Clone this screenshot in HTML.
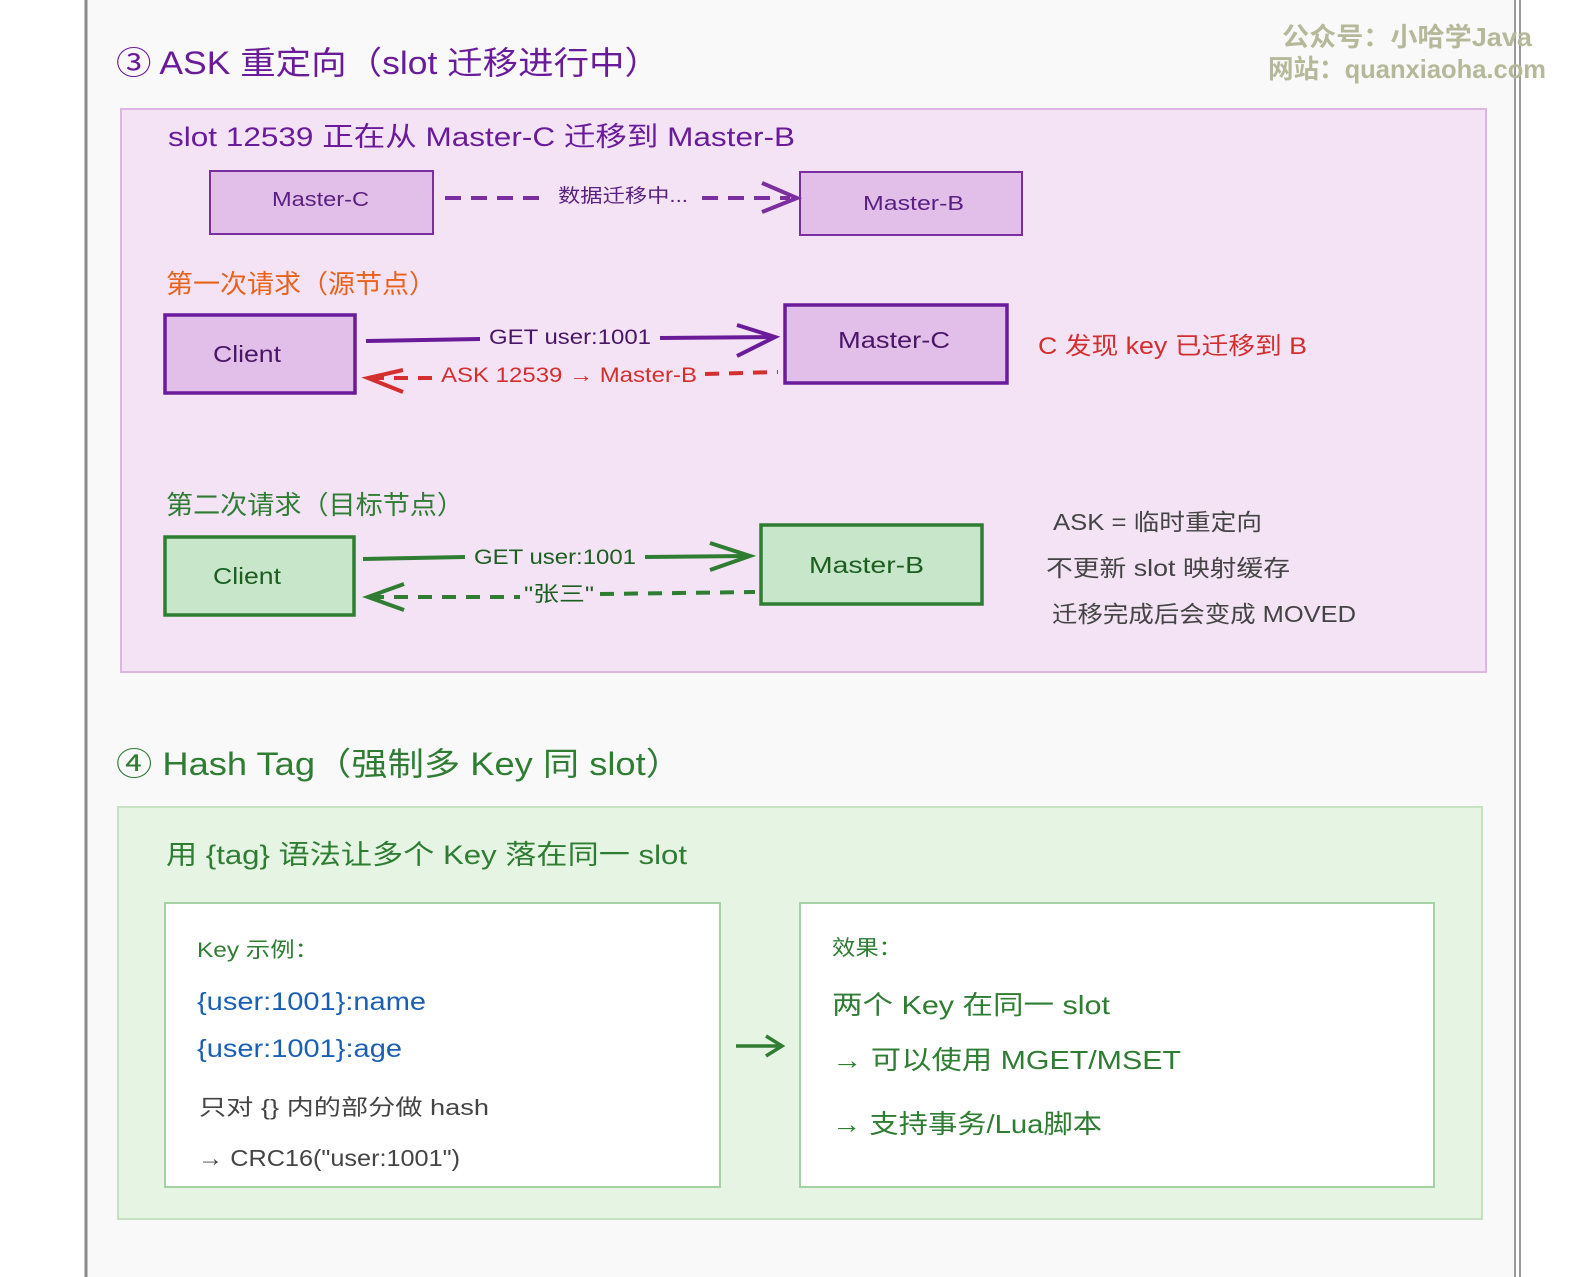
<!DOCTYPE html>
<html><head><meta charset="utf-8"><style>
html,body{margin:0;padding:0;background:#fff}
svg{display:block}
text{font-family:"Liberation Sans","Noto Sans CJK SC",sans-serif}
</style></head><body>
<svg width="1580" height="1277" viewBox="0 0 1580 1277" xmlns="http://www.w3.org/2000/svg">
<rect x="0" y="0" width="1580" height="1277" fill="#fff"/>
<rect x="86" y="0" width="1430" height="1277" fill="#f9f9f9"/>
<line x1="86" y1="0" x2="86" y2="1277" stroke="#8a8a8a" stroke-width="3"/>
<line x1="1515" y1="0" x2="1515" y2="1277" stroke="#999" stroke-width="2"/>
<line x1="1520" y1="0" x2="1520" y2="1277" stroke="#999" stroke-width="2"/>

<text x="1282" y="46" font-size="26" fill="#b5b99a" font-weight="bold" textLength="250" lengthAdjust="spacingAndGlyphs">公众号：小哈学Java</text>
<text x="1268" y="78" font-size="26" fill="#b5b99a" font-weight="bold" textLength="278" lengthAdjust="spacingAndGlyphs">网站：quanxiaoha.com</text>

<!-- section 3 -->
<text x="116" y="74" font-size="32" fill="#6a1b9a" textLength="544" lengthAdjust="spacingAndGlyphs">③ ASK 重定向（slot 迁移进行中）</text>
<rect x="121" y="109" width="1365" height="563" fill="#f3e3f5" stroke="#dcb6e0" stroke-width="2"/>
<text x="168" y="146" font-size="27" fill="#6a1b9a" textLength="627" lengthAdjust="spacingAndGlyphs">slot 12539 正在从 Master-C 迁移到 Master-B</text>

<rect x="210" y="171" width="223" height="63" fill="#e1bfe8" stroke="#7b2ea0" stroke-width="2"/>
<text x="272" y="206" font-size="20" fill="#5a1f80" textLength="97" lengthAdjust="spacingAndGlyphs">Master-C</text>
<rect x="800" y="172" width="222" height="63" fill="#e1bfe8" stroke="#7b2ea0" stroke-width="2"/>
<text x="863" y="210" font-size="20" fill="#5a1f80" textLength="101" lengthAdjust="spacingAndGlyphs">Master-B</text>
<line x1="445" y1="198" x2="548" y2="198" stroke="#7b2ea0" stroke-width="4" stroke-dasharray="16,10"/>
<text x="558" y="202" font-size="19" fill="#5a1f80" textLength="130" lengthAdjust="spacingAndGlyphs">数据迁移中...</text>
<line x1="702" y1="198" x2="790" y2="198" stroke="#7b2ea0" stroke-width="4" stroke-dasharray="16,10"/>
<path d="M762 183 L797 198 L762 212" fill="none" stroke="#7b2ea0" stroke-width="4"/>

<text x="166" y="293" font-size="26" fill="#e8621c" textLength="270" lengthAdjust="spacingAndGlyphs">第一次请求（源节点）</text>
<rect x="165" y="315" width="190" height="78" fill="#e1bfe8" stroke="#6a1b9a" stroke-width="3.5"/>
<text x="213" y="362" font-size="23" fill="#4a1566" textLength="68" lengthAdjust="spacingAndGlyphs">Client</text>
<rect x="785" y="305" width="222" height="78" fill="#e1bfe8" stroke="#6a1b9a" stroke-width="3.5"/>
<text x="838" y="348" font-size="23" fill="#4a1566" textLength="112" lengthAdjust="spacingAndGlyphs">Master-C</text>
<line x1="366" y1="341" x2="480" y2="339" stroke="#6a1b9a" stroke-width="4"/>
<text x="489" y="344" font-size="21" fill="#4a1566" textLength="162" lengthAdjust="spacingAndGlyphs">GET user:1001</text>
<line x1="660" y1="338" x2="772" y2="337" stroke="#6a1b9a" stroke-width="4"/>
<path d="M737 325 L775 337 L737 356" fill="none" stroke="#6a1b9a" stroke-width="4"/>
<path d="M403 370 L368 378 L403 392" fill="none" stroke="#d32f2f" stroke-width="4"/>
<line x1="370" y1="378" x2="432" y2="378" stroke="#d32f2f" stroke-width="4" stroke-dasharray="14,10"/>
<text x="441" y="382" font-size="21" fill="#d32f2f" textLength="256" lengthAdjust="spacingAndGlyphs">ASK 12539 → Master-B</text>
<line x1="705" y1="374" x2="778" y2="372" stroke="#d32f2f" stroke-width="4" stroke-dasharray="14,10"/>
<text x="1038" y="354" font-size="24" fill="#d32f2f" textLength="269" lengthAdjust="spacingAndGlyphs">C 发现 key 已迁移到 B</text>

<text x="166" y="514" font-size="26" fill="#2e7d32" textLength="298" lengthAdjust="spacingAndGlyphs">第二次请求（目标节点）</text>
<rect x="165" y="537" width="189" height="78" fill="#c8e6c9" stroke="#2e7d32" stroke-width="3.5"/>
<text x="213" y="584" font-size="23" fill="#1b5e20" textLength="68" lengthAdjust="spacingAndGlyphs">Client</text>
<rect x="761" y="525" width="221" height="79" fill="#c8e6c9" stroke="#2e7d32" stroke-width="3.5"/>
<text x="809" y="573" font-size="23" fill="#1b5e20" textLength="115" lengthAdjust="spacingAndGlyphs">Master-B</text>
<line x1="363" y1="559" x2="465" y2="557" stroke="#2e7d32" stroke-width="4"/>
<text x="474" y="564" font-size="21" fill="#1b5e20" textLength="162" lengthAdjust="spacingAndGlyphs">GET user:1001</text>
<line x1="645" y1="557" x2="747" y2="556" stroke="#2e7d32" stroke-width="4"/>
<path d="M710 543 L750 556 L710 570" fill="none" stroke="#2e7d32" stroke-width="4"/>
<path d="M404 584 L368 597 L404 610" fill="none" stroke="#2e7d32" stroke-width="4"/>
<line x1="370" y1="597" x2="520" y2="597" stroke="#2e7d32" stroke-width="4" stroke-dasharray="14,10"/>
<text x="524" y="601" font-size="21" fill="#1b5e20" textLength="70" lengthAdjust="spacingAndGlyphs">"张三"</text>
<line x1="600" y1="594" x2="755" y2="592" stroke="#2e7d32" stroke-width="4" stroke-dasharray="14,10"/>

<text x="1053" y="530" font-size="23" fill="#444" textLength="209" lengthAdjust="spacingAndGlyphs">ASK = 临时重定向</text>
<text x="1046" y="576" font-size="23" fill="#444" textLength="244" lengthAdjust="spacingAndGlyphs">不更新 slot 映射缓存</text>
<text x="1052" y="622" font-size="23" fill="#444" textLength="304" lengthAdjust="spacingAndGlyphs">迁移完成后会变成 MOVED</text>

<!-- section 4 -->
<text x="116" y="775" font-size="32" fill="#2e7d32" textLength="566" lengthAdjust="spacingAndGlyphs">④ Hash Tag（强制多 Key 同 slot）</text>
<rect x="118" y="807" width="1364" height="412" fill="#e6f4e4" stroke="#c5e3c3" stroke-width="2"/>
<text x="166" y="864" font-size="27" fill="#2e7d32" textLength="521" lengthAdjust="spacingAndGlyphs">用 {tag} 语法让多个 Key 落在同一 slot</text>

<rect x="165" y="903" width="555" height="284" fill="#fff" stroke="#a6d2a3" stroke-width="2"/>
<text x="197" y="957" font-size="21" fill="#2e7d32" textLength="122" lengthAdjust="spacingAndGlyphs">Key 示例：</text>
<text x="197" y="1010" font-size="25" fill="#1a5fb4" textLength="229" lengthAdjust="spacingAndGlyphs">{user:1001}:name</text>
<text x="197" y="1057" font-size="25" fill="#1a5fb4" textLength="205" lengthAdjust="spacingAndGlyphs">{user:1001}:age</text>
<text x="199" y="1115" font-size="22" fill="#444" textLength="290" lengthAdjust="spacingAndGlyphs">只对 {} 内的部分做 hash</text>
<text x="198" y="1166" font-size="23" fill="#444" textLength="262" lengthAdjust="spacingAndGlyphs">→ CRC16("user:1001")</text>

<line x1="736" y1="1046" x2="780" y2="1046" stroke="#2e7d32" stroke-width="3.5"/>
<path d="M766 1036 L782 1046 L766 1056" fill="none" stroke="#2e7d32" stroke-width="3.5"/>

<rect x="800" y="903" width="634" height="284" fill="#fff" stroke="#a6d2a3" stroke-width="2"/>
<text x="832" y="955" font-size="21" fill="#2e7d32" textLength="70" lengthAdjust="spacingAndGlyphs">效果：</text>
<text x="832" y="1014" font-size="26" fill="#2e7d32" textLength="278" lengthAdjust="spacingAndGlyphs">两个 Key 在同一 slot</text>
<text x="832" y="1069" font-size="26" fill="#2e7d32" textLength="349" lengthAdjust="spacingAndGlyphs">→ 可以使用 MGET/MSET</text>
<text x="832" y="1133" font-size="26" fill="#2e7d32" textLength="270" lengthAdjust="spacingAndGlyphs">→ 支持事务/Lua脚本</text>
</svg>
</body></html>
